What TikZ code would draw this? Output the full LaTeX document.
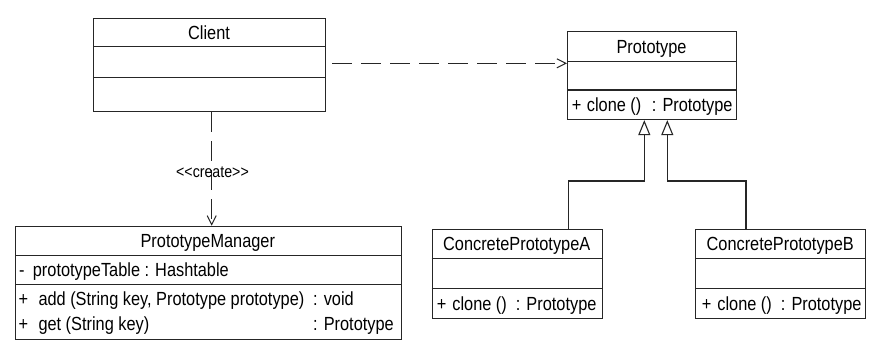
\documentclass[tikz,border=0pt]{standalone}
\usepackage{fontspec}
\setmainfont{Liberation Sans}[FakeStretch=0.86]
\usetikzlibrary{arrows.meta}
\begin{document}
\begin{tikzpicture}[x=1pt,y=-1pt,
  cls/.style={draw=black!85, line width=1.1pt, rectangle, inner sep=0pt, anchor=north west},
  div/.style={draw=black!85, line width=1.1pt},
  txt/.style={inner sep=0pt, anchor=base west, font=\fontsize{19}{22}\selectfont},
  ttl/.style={inner sep=0pt, anchor=base, font=\fontsize{19}{22}\selectfont},
  stereo/.style={inner sep=0pt, anchor=base, font=\fontsize{16.5}{19}\selectfont},
  dep/.style={draw=black!85, line width=1pt, dash pattern=on 20pt off 9pt,
    -{Straight Barb[length=9pt,width=9pt,line width=1pt]}},
  inh/.style={draw=black!85, line width=1.1pt,
    -{Triangle[open,length=15pt,width=12pt,fill=white,line width=1.1pt]}}]

\useasboundingbox[fill=white] (0,0) rectangle (874,346);

% ---- Client ----
\node[cls, minimum width=232pt, minimum height=93pt] (client) at (93,18) {};
\draw[div] (93,46.7) -- (325,46.7);
\draw[div] (93,77.7) -- (325,77.7);
\node[ttl] (clientname) at (209,39.1) {Client};

% ---- Prototype ----
\node[cls, minimum width=169pt, minimum height=88.3pt] (proto) at (567,30.7) {};
\draw[div] (567,61.7) -- (736,61.7);
\draw[div] (567,90) -- (736,90);
\node[ttl] (protoname) at (651.5,53) {Prototype};
\node[txt] (protop) at (571.7,111.3) {+};
\node[txt] (protom) at (586.7,111.3) {clone ()};
\node[txt] (protor) at (651.7,111.3) {: Prototype};

% ---- PrototypeManager ----
\node[cls, minimum width=385.7pt, minimum height=113.3pt] (pm) at (15,225.7) {};
\draw[div] (15,255.7) -- (400.7,255.7);
\draw[div] (15,284.3) -- (400.7,284.3);
\node[ttl] (pmname) at (207.8,247.5) {PrototypeManager};
\node[txt] (pmam) at (18.8,276.8) {-};
\node[txt] (pma) at (32.7,276.8) {prototypeTable : Hashtable};
\node[txt] (pmp1) at (18.3,305.7) {+};
\node[txt] (pmm1) at (38.3,305.7) {add (String key, Prototype prototype)};
\node[txt] (pmr1) at (313,305.7) {: void};
\node[txt] (pmp2) at (18.3,330) {+};
\node[txt] (pmm2) at (38.3,330) {get (String key)};
\node[txt] (pmr2) at (313,330) {: Prototype};

% ---- ConcretePrototypeA ----
\node[cls, minimum width=170pt, minimum height=89pt] (ca) at (431.7,229.3) {};
\draw[div] (431.7,258.3) -- (601.7,258.3);
\draw[div] (431.7,288.3) -- (601.7,288.3);
\node[ttl] (caname) at (516.7,250.6) {ConcretePrototypeA};
\node[txt] (cap) at (436.7,310) {+};
\node[txt] (cam) at (452.2,310) {clone ()};
\node[txt] (car) at (515.7,310) {: Prototype};

% ---- ConcretePrototypeB ----
\node[cls, minimum width=169.7pt, minimum height=89pt] (cb) at (695.3,229.3) {};
\draw[div] (695.3,258.3) -- (865,258.3);
\draw[div] (695.3,288.3) -- (865,288.3);
\node[ttl] (cbname) at (780.2,250.6) {ConcretePrototypeB};
\node[txt] (cbp) at (701.7,310) {+};
\node[txt] (cbm) at (717.2,310) {clone ()};
\node[txt] (cbr) at (780.7,310) {: Prototype};

% ---- dependencies ----
\coordinate (depstart) at (332,63.3);
\draw[dep] (depstart) -- (depstart -| proto.west);

\coordinate (createx) at (211.7,0);
\draw[dep] (createx |- client.south) -- (createx |- pm.north);
\node[stereo] (createlbl) at (212.5,177.5) {<{}<create>{}>};

% ---- generalizations ----
\coordinate (ka) at (568.3,181);
\coordinate (kb) at (746,181);
\coordinate (ta) at (644.3,0);
\coordinate (tb) at (667.3,0);
\draw[inh] (ka |- ca.north) -- (ka) -| (ta |- proto.south);
\draw[inh] (kb |- cb.north) -- (kb) -| (tb |- proto.south);

\end{tikzpicture}
\end{document}
